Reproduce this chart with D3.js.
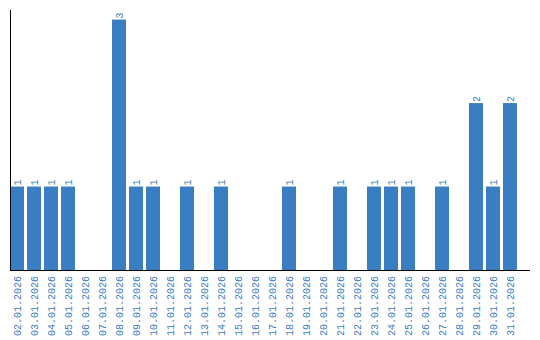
<!DOCTYPE html>
<html>
<head>
<meta charset="utf-8">
<script src="https://cdn.jsdelivr.net/npm/d3@7"></script>
<style>
  body { margin: 0; background: #fff; }
  text { font-family: "Liberation Mono", "DejaVu Sans Mono", monospace; }
</style>
</head>
<body>
<div class="canvas"></div>
<script>
const dates = ['02.01.2026','03.01.2026','04.01.2026','05.01.2026','06.01.2026','07.01.2026',
  '08.01.2026','09.01.2026','10.01.2026','11.01.2026','12.01.2026','13.01.2026','14.01.2026',
  '15.01.2026','16.01.2026','17.01.2026','18.01.2026','19.01.2026','20.01.2026','21.01.2026',
  '22.01.2026','23.01.2026','24.01.2026','25.01.2026','26.01.2026','27.01.2026','28.01.2026',
  '29.01.2026','30.01.2026','31.01.2026'];
const counts = [1,1,1,1,0,0,3,1,1,0,1,0,1,0,0,0,1,0,0,1,0,1,1,1,0,1,0,2,1,2];

const width = 540, height = 340;
const margin = { top: 10, right: 10, bottom: 70, left: 10 };
const baseY = height - margin.bottom;
const blue = '#3b7dc3';

const svg = d3.select('.canvas')
  .append('svg')
    .attr('width', width)
    .attr('height', height);

// scales
const x = d3.scaleBand()
  .domain(dates)
  .range([margin.left, margin.left + 507])
  .paddingInner(3 / 17)
  .paddingOuter(0);

const y = d3.scaleLinear()
  .domain([0, 3.115])
  .range([baseY, margin.top]);

// bars
svg.selectAll('rect')
  .data(counts)
  .enter()
  .append('rect')
    .attr('x', (d, i) => x(dates[i]))
    .attr('y', d => y(d))
    .attr('width', x.bandwidth())
    .attr('height', d => baseY - y(d))
    .attr('fill', blue);

// value labels
svg.selectAll('.val')
  .data(counts.map((d, i) => ({ v: d, date: dates[i] })).filter(d => d.v > 0))
  .enter()
  .append('text')
    .attr('class', 'val')
    .attr('transform', d => `translate(${x(d.date) + x.bandwidth() / 2 + 4}, ${y(d.v) - 1}) rotate(-90)`)
    .attr('fill', blue)
    .attr('font-size', 10)
    .text(d => d.v);

// x axis labels
const xAxis = d3.axisBottom(x).tickSize(0).tickPadding(0);
const xAxisGroup = svg.append('g')
  .attr('transform', `translate(0, ${baseY})`)
  .call(xAxis);
xAxisGroup.select('.domain').remove();
xAxisGroup.selectAll('text')
  .attr('transform', 'rotate(-90)')
  .attr('text-anchor', 'end')
  .attr('x', -6)
  .attr('y', 0)
  .attr('dy', '0.35em')
  .attr('fill', blue)
  .attr('font-size', 10)
  .attr('font-family', '"Liberation Mono", "DejaVu Sans Mono", monospace');

// axis lines
svg.append('line')
  .attr('x1', margin.left + 0.5).attr('x2', margin.left + 0.5)
  .attr('y1', margin.top).attr('y2', baseY)
  .attr('stroke', '#000');
svg.append('line')
  .attr('x1', margin.left).attr('x2', width - 10)
  .attr('y1', baseY + 0.5).attr('y2', baseY + 0.5)
  .attr('stroke', '#000');
</script>
</body>
</html>
